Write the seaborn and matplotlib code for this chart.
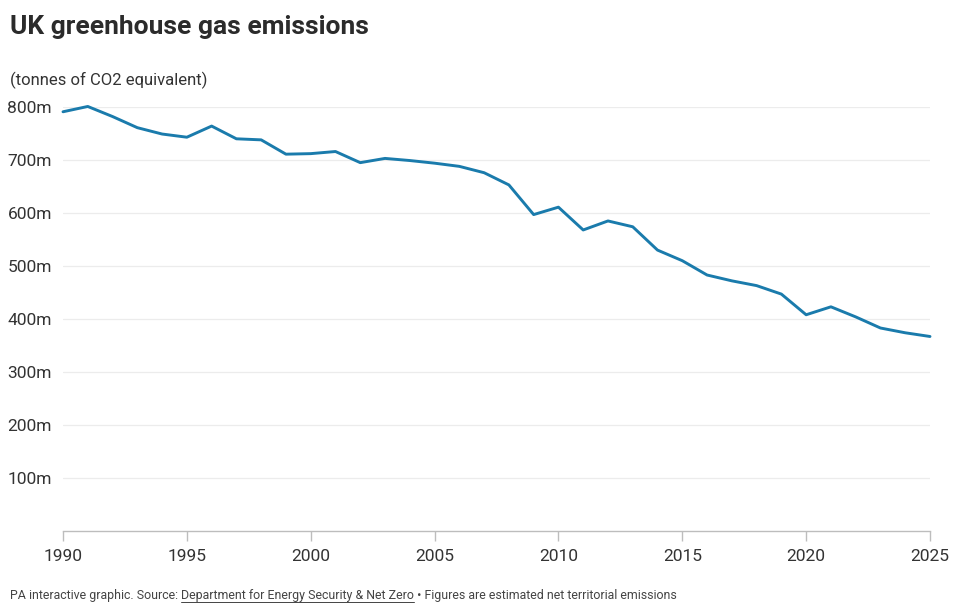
import matplotlib
matplotlib.use("Agg")
import matplotlib.pyplot as plt
import seaborn as sns
import pandas as pd

years = list(range(1990, 2026))
emissions = [791, 801, 782, 761, 749, 743, 764, 740, 738, 711, 712, 716,
             695, 703, 699, 694, 688, 676, 653, 597, 611, 568, 585, 574,
             530, 510, 483, 472, 463, 447, 408, 423, 404, 383, 374, 367]
y_ticks = [100, 200, 300, 400, 500, 600, 700, 800]
y_tick_labels = ["100m", "200m", "300m", "400m", "500m", "600m", "700m", "800m"]
x_ticks = [1990, 1995, 2000, 2005, 2010, 2015, 2020, 2025]

df = pd.DataFrame({"year": years, "emissions": emissions})

sns.set_theme(style="white")
plt.rcParams["font.family"] = ["Roboto", "DejaVu Sans"]

fig = plt.figure(figsize=(9.6, 6.11), dpi=100)
ax = fig.add_axes([63/960, 1-531/611, (930-63)/960, (531-107)/611])

sns.lineplot(data=df, x="year", y="emissions", ax=ax, color="#1a7bac",
             linewidth=2.1, clip_on=False)

ax.set_xlim(1990, 2025)
ax.set_ylim(0, 800)
ax.set_yticks(y_ticks)
ax.set_yticklabels(y_tick_labels)
ax.set_xticks(x_ticks)
ax.set_xticklabels([str(x) for x in x_ticks])
ax.set_xlabel("")
ax.set_ylabel("")

for s in ["top", "right", "left"]:
    ax.spines[s].set_visible(False)
ax.spines["bottom"].set_color("#bdbdbd")
ax.spines["bottom"].set_linewidth(1)

ax.grid(axis="y", color="#ececec", linewidth=0.9)
ax.set_axisbelow(True)
ax.tick_params(axis="x", length=7, width=1, color="#bdbdbd", pad=6,
               labelsize=12.5, labelcolor="#333333", bottom=True)
ax.tick_params(axis="y", length=0, pad=8, labelsize=12.5, labelcolor="#333333")

fig.text(10/960, 1-27/611, "UK greenhouse gas emissions", fontsize=19,
         fontweight="bold", color="#2b2b2b", va="center", ha="left")
fig.text(10/960, 1-80/611, "(tonnes of CO2 equivalent)", fontsize=12,
         color="#333333", va="center", ha="left")

# footer with underlined source
fig.canvas.draw()
renderer = fig.canvas.get_renderer()
parts = ["PA interactive graphic. Source: ", "Department for Energy Security & Net Zero",
         " \u2022 Figures are estimated net territorial emissions"]
x = 10
yf = 1 - 596/611
for i, p in enumerate(parts):
    t = fig.text(x/960, yf, p, fontsize=8.9, color="#444444", va="center", ha="left")
    bb = t.get_window_extent(renderer=renderer)
    if i == 1:
        fig.add_artist(plt.Line2D([bb.x0/960, bb.x1/960],
                                  [(bb.y0+1)/611, (bb.y0+1)/611],
                                  color="#444444", linewidth=0.7))
    x = bb.x1

fig.savefig("out.png", dpi=100, facecolor="white")
